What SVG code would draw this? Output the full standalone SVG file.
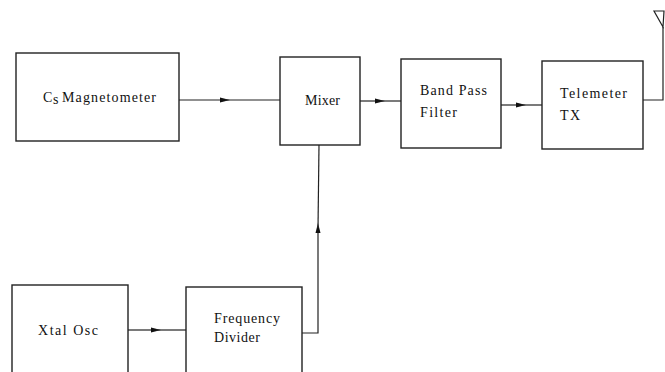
<svg xmlns="http://www.w3.org/2000/svg" width="665" height="372" viewBox="0 0 665 372">
<style>
.box{fill:#fff;stroke:#222;stroke-width:1.4}
.ln{fill:none;stroke:#222;stroke-width:1.2}
text{font-family:"Liberation Serif","Times New Roman",serif;font-size:14px;fill:#111}
</style>
<defs>
<marker id="ah" viewBox="0 0 10 6" refX="5" refY="3" markerWidth="10" markerHeight="6" markerUnits="userSpaceOnUse" orient="auto">
<path d="M0,0.5 L10,3 L0,5.5 Z" fill="#111"/>
</marker>
</defs>
<rect width="665" height="372" fill="#fff"/>
<g id="connectors">
<path class="ln" d="M179,100 L225,100" marker-end="url(#ah)"/><path class="ln" d="M225,100 L280,100"/>
<path class="ln" d="M360,101 L380,101" marker-end="url(#ah)"/><path class="ln" d="M380,101 L401,101"/>
<path class="ln" d="M501,105 L521,105" marker-end="url(#ah)"/><path class="ln" d="M521,105 L542,105"/>
<path class="ln" d="M128,330 L156,330" marker-end="url(#ah)"/><path class="ln" d="M156,330 L186,330"/>
<path class="ln" d="M302,333 L318,333 L318,228" marker-end="url(#ah)"/><path class="ln" d="M318,228 L319,145"/>
<path class="ln" d="M643,100 L663,100 L663,27"/>
<path class="ln" d="M654,11 L664,11 L663,27 Z"/>
</g>
<g id="cs-magnetometer"><rect class="box" x="16" y="53" width="163" height="88"/><text x="43" y="102">C</text><text x="53" y="104" font-size="10">s</text><text x="62" y="102" textLength="94" lengthAdjust="spacing">Magnetometer</text></g>
<g id="mixer"><rect class="box" x="280" y="57" width="80" height="88"/><text x="305" y="105" textLength="35" lengthAdjust="spacing">Mixer</text></g>
<g id="band-pass-filter"><rect class="box" x="401" y="59" width="100" height="89"/><text x="420" y="95" textLength="67" lengthAdjust="spacing">Band Pass</text><text x="420" y="117" textLength="37" lengthAdjust="spacing">Filter</text></g>
<g id="telemeter-tx"><rect class="box" x="542" y="61" width="101" height="88"/><text x="560" y="98" textLength="67" lengthAdjust="spacing">Telemeter</text><text x="560" y="120" textLength="20" lengthAdjust="spacing">TX</text></g>
<g id="xtal-osc"><rect class="box" x="12" y="285" width="116" height="90"/><text x="38" y="335" font-size="15" textLength="60" lengthAdjust="spacing">Xtal Osc</text></g>
<g id="frequency-divider"><rect class="box" x="186" y="287" width="116" height="90"/><text x="214" y="323" textLength="66" lengthAdjust="spacing">Frequency</text><text x="214" y="342" textLength="46" lengthAdjust="spacing">Divider</text></g>
</svg>
